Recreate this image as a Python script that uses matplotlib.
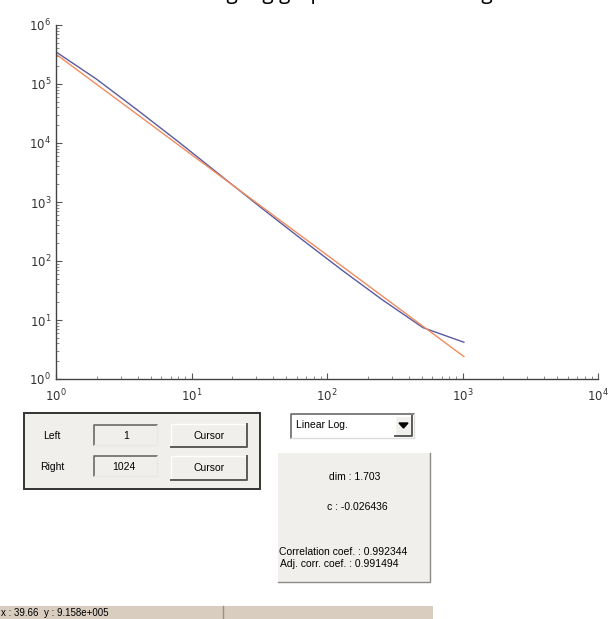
import matplotlib.pyplot as plt
from matplotlib.patches import Rectangle, Polygon

# box-counting data (box size vs count) and the fitted line end points
box_size = [1, 2, 4, 8, 16, 32, 64, 128, 256, 512, 1024]
box_count = [3.5e5, 1.2e5, 3.6e4, 1.05e4, 2.95e3, 830, 240, 71, 22, 7.4, 4.2]
fit_x = [1, 1024]
fit_y = [3.2e5, 2.4]

left_val = "1"
right_val = "1024"
scale_choice = "Linear Log."
dim_text = "dim : 1.703"
c_text = "c : -0.026436"
corr_text = "Correlation coef. : 0.992344"
adj_text = "Adj. corr. coef. : 0.991494"
status_text = "x : 39.66  y : 9.158e+005"
title_text = "Log-log graph of box counting"

W, H = 608, 619
fig = plt.figure(figsize=(W / 100, H / 100), dpi=100)
fig.patch.set_facecolor("white")

# main log-log plot
ax = fig.add_axes([56 / W, 1 - 379 / H, 542 / W, 354 / H])
ax.loglog(box_size, box_count, color="#5a5aa0", lw=1.0)
ax.loglog(fit_x, fit_y, color="#f28c5c", lw=1.0)
ax.set_xlim(1, 1e4)
ax.set_ylim(1, 1e6)
for s in ["top", "right"]:
    ax.spines[s].set_visible(False)
for s in ["left", "bottom"]:
    ax.spines[s].set_color("#444444")
    ax.spines[s].set_linewidth(1.0)
ax.tick_params(which="major", direction="in", length=4, width=0.8, color="#555555",
               labelsize=8.5, labelcolor="#333333")
ax.tick_params(which="minor", direction="in", length=2.5, width=0.6, color="#777777")
ax.tick_params(axis="x", pad=6)

# overlay in pixel coordinates for the GUI widgets
ov2 = fig.add_axes([0, 0, 1, 1], zorder=5)
ov2.set_xlim(0, W)
ov2.set_ylim(H, 0)
ov2.axis("off")
ov2.patch.set_alpha(0)

gui_font = ["Liberation Sans", "DejaVu Sans"]
panel = "#f1efeb"


def rect(x0, y0, x1, y1, **kw):
    ov2.add_patch(Rectangle((x0, y0), x1 - x0, y1 - y0, **kw))


def sunken(x0, y0, x1, y1):
    rect(x0, y0, x1, y1, facecolor=panel, edgecolor="none")
    ov2.plot([x0, x0, x1], [y1, y0, y0], color="#6a6a6a", lw=1.2)
    ov2.plot([x0, x1, x1], [y1, y1, y0], color="#e8e8e8", lw=1.0)


def raised(x0, y0, x1, y1):
    rect(x0, y0, x1, y1, facecolor=panel, edgecolor="none")
    ov2.plot([x0, x0, x1], [y1, y0, y0], color="#ffffff", lw=1.0)
    ov2.plot([x0, x1, x1], [y1, y1, y0], color="#5a5a5a", lw=1.4)


# title cut off at the top of the screenshot, only descenders show
ov2.text(203, 3.5, title_text, fontsize=15, family=["Open Sans", "DejaVu Sans"],
         ha="left", va="bottom", color="black")

# range group box
rect(24, 413, 260, 489, facecolor=panel, edgecolor="#333333", lw=1.4)
ov2.text(52, 436, "Left", fontsize=7.5, family=gui_font, ha="center", va="center")
ov2.text(52, 467, "Right", fontsize=7.5, family=gui_font, ha="center", va="center")
sunken(94, 425, 157, 445)
sunken(94, 456, 157, 476)
ov2.text(126, 436, left_val, fontsize=7.5, family=gui_font, ha="center", va="center")
ov2.text(124, 467, right_val, fontsize=7.5, family=gui_font, ha="center", va="center")
raised(171, 424, 247, 447)
raised(171, 456, 247, 480)
ov2.text(209, 436, "Cursor", fontsize=7.5, family=gui_font, ha="center", va="center")
ov2.text(209, 468, "Cursor", fontsize=7.5, family=gui_font, ha="center", va="center")

# scale dropdown
rect(291, 414, 414, 438, facecolor="white", edgecolor="none")
ov2.plot([291, 291, 414], [438, 414, 414], color="#6a6a6a", lw=1.2)
ov2.plot([291, 414, 414], [438, 438, 414], color="#dddddd", lw=1.0)
ov2.text(296, 425, scale_choice, fontsize=7.5, family=gui_font, ha="left", va="center")
raised(395, 416, 412, 436)
ov2.add_patch(Polygon([[399, 423], [408, 423], [403.5, 428]], closed=True, color="black"))

# results panel
rect(278, 453, 430, 582, facecolor=panel, edgecolor="none")
ov2.plot([278, 430, 430], [582, 582, 453], color="#8a8a8a", lw=1.0)
ov2.text(355, 477, dim_text, fontsize=7.5, family=gui_font, ha="center", va="center")
ov2.text(357, 507, c_text, fontsize=7.5, family=gui_font, ha="center", va="center")
ov2.text(279, 552, corr_text, fontsize=7.5, family=gui_font, ha="left", va="center")
ov2.text(280, 564, adj_text, fontsize=7.5, family=gui_font, ha="left", va="center")

# status bar
rect(0, 606, 433, 619, facecolor="#d8cdbf", edgecolor="none")
ov2.plot([223, 223], [606, 619], color="#9a9080", lw=1.0)
ov2.text(1, 613, status_text, fontsize=7, family=gui_font, ha="left", va="center")

fig.savefig("out.png", dpi=100)
